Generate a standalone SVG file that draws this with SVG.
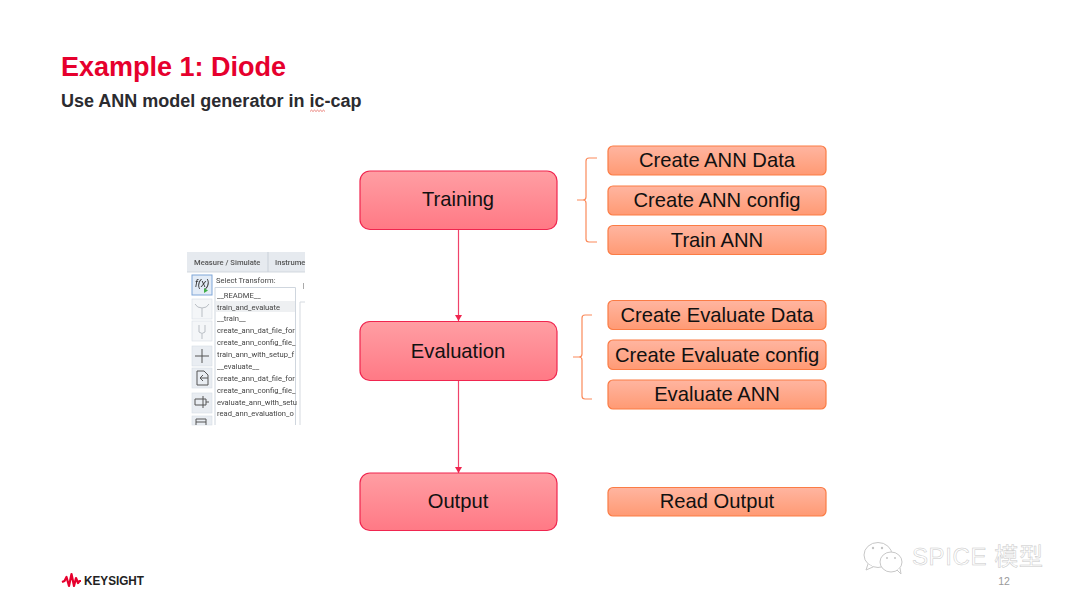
<svg xmlns="http://www.w3.org/2000/svg" width="1080" height="605" viewBox="0 0 1080 605">
  <style>
    text { font-family: "Liberation Sans", Arial, sans-serif; }
    .main { fill: url(#mainFill); stroke: #f0254f; stroke-width: 1.2; }
    .sub { fill: url(#subFill); stroke: #fb7c45; stroke-width: 1.2; }
    .mainLabel { font-size: 20.2px; fill: #111; text-anchor: middle; }
    .subLabel { font-size: 20.2px; fill: #111; text-anchor: middle; }
    .flow { fill: none; stroke: #f0436a; stroke-width: 1.2; }
    .brace { fill: none; stroke: #fb8a5a; stroke-width: 1.2; }
    .row { font-family: Roboto, "Liberation Sans", sans-serif; font-size: 7.6px; fill: #444; }
    .tab { font-family: Roboto, "Liberation Sans", sans-serif; font-size: 7.6px; fill: #555; font-weight: 500; }
    .tool { fill: #e9edf2; stroke: #d5dce4; stroke-width: .6; }
    .glyph { fill: none; stroke: #555; stroke-width: 1; }
    .dim { fill: none; stroke: #b9bec4; stroke-width: 1; }
    .mark { font-family: "Liberation Sans", "Noto Sans CJK SC", sans-serif; font-size: 24px; fill: #fff; stroke: #c8c8c8; stroke-width: .5; letter-spacing: .6px; }
    .bubble { fill: #fff; stroke: #c8c8c8; stroke-width: 1; }
  </style>
  <defs>
    <linearGradient id="mainFill" x1="0" y1="0" x2="0" y2="1">
      <stop offset="0" stop-color="#ff9ea3"/>
      <stop offset="1" stop-color="#ff7985"/>
    </linearGradient>
    <linearGradient id="subFill" x1="0" y1="0" x2="0" y2="1">
      <stop offset="0" stop-color="#ffb5a0"/>
      <stop offset="1" stop-color="#ff9a74"/>
    </linearGradient>
    <marker id="arrow" markerUnits="userSpaceOnUse" markerWidth="7" markerHeight="8" refX="6" refY="3.5" orient="auto">
      <path d="M0 0L6 3.5L0 7z" fill="#f0254f"/>
    </marker>
    <filter id="soft" x="-5%" y="-5%" width="110%" height="110%">
      <feGaussianBlur stdDeviation="0.35"/>
    </filter>
  </defs>

  <rect width="1080" height="605" fill="#fff"/>

  <text x="61" y="76" font-size="27" font-weight="700" fill="#e6002d">Example 1: Diode</text>
  <text x="61" y="107" font-size="18" font-weight="700" fill="#2b2b2f">Use ANN model generator in ic-cap</text>
  <path d="M310 111.500l1.500-1.400 1.500 1.400 1.500-1.400 1.500 1.400 1.500-1.400 1.500 1.400 1.500-1.400 1.500 1.400 1.500-1.400 1.500 1.400" fill="none" stroke="#e0463c" stroke-width=".7"/>

  <!-- Transform selector panel -->
  <g id="transform-panel" filter="url(#soft)">
    <rect x="187" y="252" width="118" height="173" fill="#fff"/>
    <rect x="187" y="252" width="118" height="20" fill="#e6eaef"/>
    <line x1="268" y1="252" x2="268" y2="272" stroke="#c9d0d8" stroke-width="1"/>
    <line x1="187" y1="272" x2="305" y2="272" stroke="#c9d0d8" stroke-width=".8"/>
    <text class="tab" x="194" y="264.500">Measure / Simulate</text>
    <text class="tab" x="275" y="264.500">Instrume</text>

    <rect x="192" y="275" width="20" height="20" fill="#e3ecf7" stroke="#7fa6d8" stroke-width="1"/>
    <text x="195" y="287" font-family="Liberation Serif, serif" font-style="italic" font-size="10" fill="#333">f(x)</text>
    <path d="M204 288l4 2.500-4 2.500z" fill="#3fae49"/>
    <rect class="tool" x="192" y="299" width="20" height="20" fill-opacity=".5"/>
    <path class="dim" d="M195 304q2 4 7 4q5 0 7-4M202 308v9"/>
    <rect class="tool" x="192" y="321" width="20" height="20" fill-opacity=".5"/>
    <path class="dim" d="M199 325v7q3 3 6 0v-7M202 334v5"/>
    <rect class="tool" x="192" y="346" width="20" height="20"/>
    <path class="glyph" d="M195 356h14M202 349v14"/>
    <rect class="tool" x="192" y="368" width="20" height="20"/>
    <path class="glyph" d="M197 371h7l4 4v10h-11zM200 378h8M203 375l-3 3 3 3"/>
    <rect class="tool" x="192" y="393" width="20" height="20"/>
    <path class="glyph" d="M195 399h11v6h-11zM203 396v12M206 402h3"/>
    <rect class="tool" x="192" y="416" width="20" height="9"/>
    <path class="glyph" d="M196 419h10v6M196 419v6M196 422h10"/>

    <text x="216" y="283" class="row">Select Transform:</text>
    <path d="M215 425V287.500H295.500V425" fill="none" stroke="#cfd6de" stroke-width="1"/>
    <rect x="216" y="301" width="79" height="11" fill="#eef0f2"/>
    <text class="row" x="217" y="297.500">__README__</text>
    <text class="row" x="217" y="309.500">train_and_evaluate</text>
    <text class="row" x="217" y="321">__train__</text>
    <text class="row" x="217" y="333">create_ann_dat_file_for</text>
    <text class="row" x="217" y="345">create_ann_config_file_</text>
    <text class="row" x="217" y="357">train_ann_with_setup_f</text>
    <text class="row" x="217" y="369">__evaluate__</text>
    <text class="row" x="217" y="381">create_ann_dat_file_for</text>
    <text class="row" x="217" y="393">create_ann_config_file_</text>
    <text class="row" x="217" y="405">evaluate_ann_with_setu</text>
    <text class="row" x="217" y="416">read_ann_evaluation_o</text>
    <path d="M305 302H300V425" fill="none" stroke="#d5dae0" stroke-width="1"/>
    <line x1="303.500" y1="283" x2="303.500" y2="289" stroke="#aaa" stroke-width="1"/>
  </g>

  <!-- Flow between the three stages, plus the braces -->
  <g id="connectors">
    <line class="flow" x1="458.500" y1="229.500" x2="458.500" y2="321" marker-end="url(#arrow)"/>
    <line class="flow" x1="458.500" y1="380.500" x2="458.500" y2="473" marker-end="url(#arrow)"/>
    <path class="brace" d="M597 158H589Q586 158 586 161V197Q586 200 583 200H577M583 200Q586 200 586 203V239Q586 242 589 242H597"/>
    <path class="brace" d="M592 315H585Q582 315 582 318V354Q582 357 579 357H573M579 357Q582 357 582 360V396Q582 399 585 399H592"/>
  </g>

  <g id="training">
    <rect class="main" x="360" y="171" width="197" height="58.500" rx="10"/>
    <text class="mainLabel" x="458" y="206">Training</text>
  </g>
  <g id="evaluation">
    <rect class="main" x="360" y="321.500" width="197" height="59" rx="10"/>
    <text class="mainLabel" x="458" y="357.500">Evaluation</text>
  </g>
  <g id="output">
    <rect class="main" x="360" y="473" width="197" height="57.500" rx="10"/>
    <text class="mainLabel" x="458" y="508">Output</text>
  </g>

  <g id="create-ann-data">
    <rect class="sub" x="608" y="146" width="218" height="29" rx="5"/>
    <text class="subLabel" x="717" y="166.500">Create ANN Data</text>
  </g>
  <g id="create-ann-config">
    <rect class="sub" x="608" y="186" width="218" height="29" rx="5"/>
    <text class="subLabel" x="717" y="207">Create ANN config</text>
  </g>
  <g id="train-ann">
    <rect class="sub" x="608" y="225.500" width="218" height="29" rx="5"/>
    <text class="subLabel" x="717" y="246.500">Train ANN</text>
  </g>
  <g id="create-evaluate-data">
    <rect class="sub" x="608" y="300.500" width="218" height="29" rx="5"/>
    <text class="subLabel" x="717" y="321.500">Create Evaluate Data</text>
  </g>
  <g id="create-evaluate-config">
    <rect class="sub" x="608" y="340" width="218" height="29.500" rx="5"/>
    <text class="subLabel" x="717" y="361.500">Create Evaluate config</text>
  </g>
  <g id="evaluate-ann">
    <rect class="sub" x="608" y="380" width="218" height="29" rx="5"/>
    <text class="subLabel" x="717" y="401">Evaluate ANN</text>
  </g>
  <g id="read-output">
    <rect class="sub" x="608" y="487.500" width="218" height="28.500" rx="5"/>
    <text class="subLabel" x="717" y="508">Read Output</text>
  </g>

  <!-- Brand mark -->
  <g id="brand">
    <path d="M62 582l2.500-1 2-4 2.500 9 2.500-12 2.500 12 2-8 2 5 1.500-2h1.500" fill="none" stroke="#e6002d" stroke-width="2.200" stroke-linejoin="round"/>
    <text x="84" y="585" font-size="12.500" font-weight="700" fill="#222" textLength="60" lengthAdjust="spacingAndGlyphs">KEYSIGHT</text>
  </g>

  <!-- Channel badge and page number -->
  <g id="channel-badge">
    <ellipse class="bubble" cx="878" cy="555" rx="14" ry="12.500"/>
    <path class="bubble" d="M868 564l-2 6 7-3"/>
    <ellipse class="bubble" cx="891" cy="562" rx="11" ry="10"/>
    <path class="bubble" d="M897 570l4 4-1-6"/>
    <circle cx="873" cy="548" r="1.200" fill="#c4c4c4"/>
    <circle cx="882" cy="548" r="1.200" fill="#c4c4c4"/>
    <circle cx="887" cy="558" r="1" fill="#c4c4c4"/>
    <circle cx="895" cy="558" r="1" fill="#c4c4c4"/>
    <text class="mark" x="912" y="565">SPICE 模型</text>
  </g>
  <text x="1004" y="585" font-size="10.500" fill="#9a9a9a" text-anchor="middle">12</text>
</svg>
